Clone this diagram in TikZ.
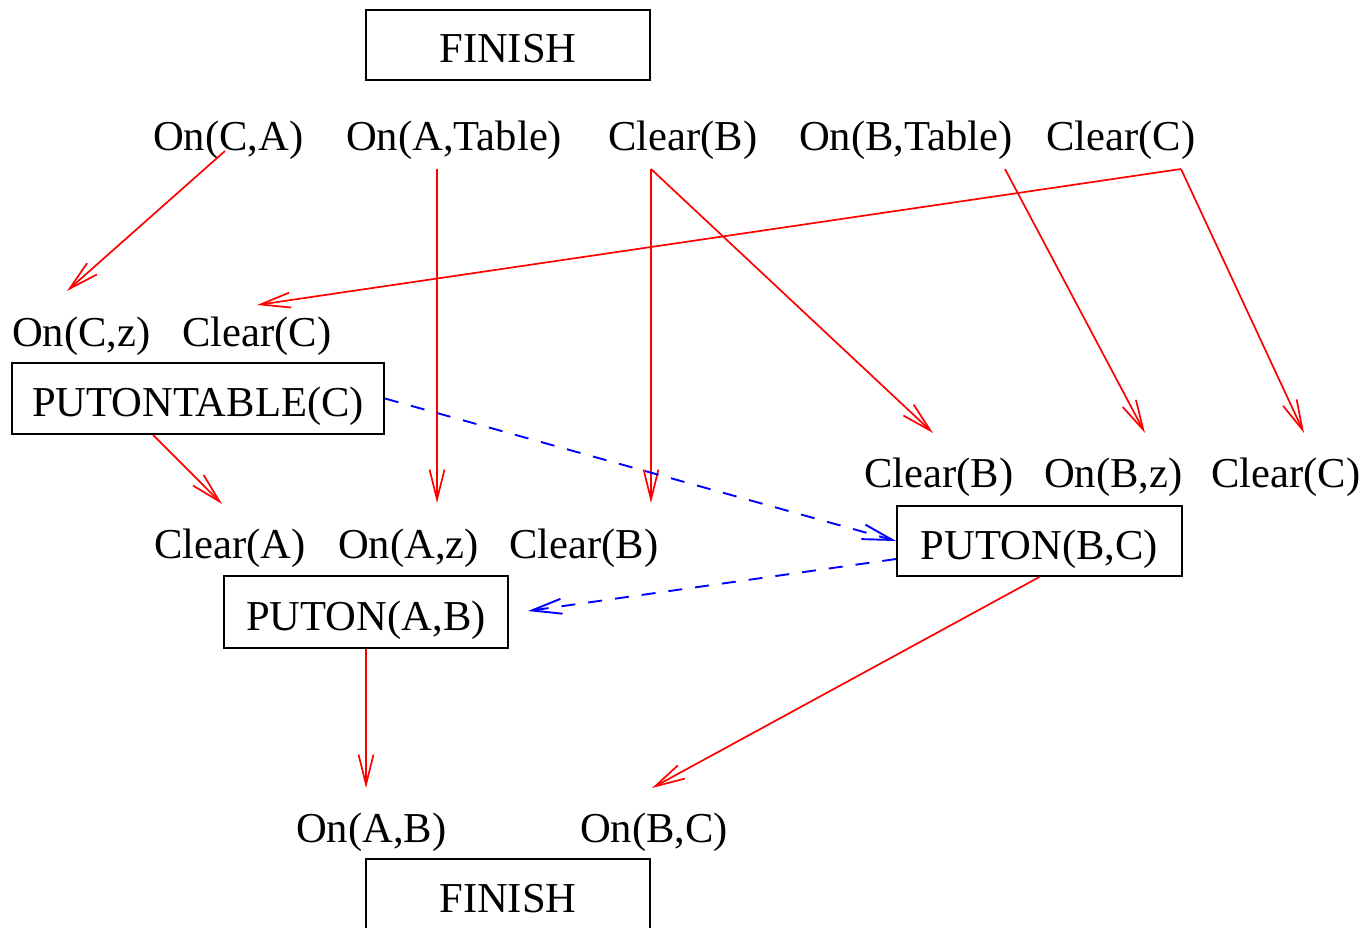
\documentclass[tikz,border=0pt]{standalone}
\usepackage{fontspec}
\setmainfont{Liberation Serif}
\usetikzlibrary{arrows.meta,calc}

\tikzset{
  lbl/.style={inner sep=0pt, anchor=base west, font=\fontsize{42.6}{50}\selectfont},
  opbox/.style={draw=black, line width=1.8pt, inner sep=0pt,
    text height=40pt, text depth=4pt, font=\fontsize{42.6}{50}\selectfont},
  causal/.style={draw=red, line width=1.7pt,
    -{Straight Barb[length=30pt,width=15pt]}},
  order/.style={draw=blue, line width=1.9pt, dash pattern=on 14pt off 13pt,
    -{Straight Barb[length=30pt,width=15pt]}}
}

\begin{document}
\begin{tikzpicture}[x=1pt,y=-1pt]
\useasboundingbox (0,0) rectangle (1367,928);

% goal step and its preconditions
\node[opbox, minimum width=284pt, minimum height=70pt] (fin1) at (508,45) {FINISH};
\node[lbl] (r1a) at (153,151) {On(C,A)};
\node[lbl] (r1b) at (346,151) {On(A,Table)};
\node[lbl] (r1c) at (608,151) {Clear(B)};
\node[lbl] (r1d) at (799,151) {On(B,Table)};
\node[lbl] (r1e) at (1046,151) {Clear(C)};

% PUTONTABLE(C)
\node[lbl] (r2a) at (12,346) {On(C,z)};
\node[lbl] (r2b) at (182,346) {Clear(C)};
\node[opbox, minimum width=372pt, minimum height=71pt] (ptc) at (198,398.5) {PUTONTABLE(C)};

% PUTON(B,C)
\node[lbl] (r3a) at (864,487) {Clear(B)};
\node[lbl] (r3b) at (1044,487) {On(B,z)};
\node[lbl] (r3c) at (1211,487) {Clear(C)};
\node[opbox, minimum width=285pt, minimum height=70pt] (pbc) at (1039.5,541) {PUTON(B,C)};

% PUTON(A,B)
\node[lbl] (r4a) at (154,558) {Clear(A)};
\node[lbl] (r4b) at (338,558) {On(A,z)};
\node[lbl] (r4c) at (509,558) {Clear(B)};
\node[opbox, minimum width=284pt, minimum height=72pt] (pab) at (366,612) {PUTON(A,B)};

% final step
\node[lbl] (r5a) at (296,842) {On(A,B)};
\node[lbl] (r5b) at (580,842) {On(B,C)};
\node[opbox, minimum width=284pt, minimum height=70pt] (fin2) at (508,894) {FINISH};

% causal links
\draw[causal] ($(r1a.base west)+(72,0)$) -- ($(r2a.base west)+(55,-55)$);
\draw[causal] ($(r1b.base west)+(91,18)$) -- ($(r4b.base west)+(99,-55)$);
\draw[causal] ($(r1c.base west)+(43,18)$) -- ($(r4c.base west)+(142,-55)$);
\draw[causal] ($(r1c.base west)+(43,18)$) -- ($(r3a.base west)+(69,-54)$);
\draw[causal] ($(r1d.base west)+(206,18)$) -- ($(r3b.base west)+(101,-54)$);
\draw[causal] ($(r1e.base west)+(135,18)$) -- ($(r2b.base west)+(75,-41)$);
\draw[causal] ($(r1e.base west)+(135,18)$) -- ($(r3c.base west)+(93,-54)$);
\draw[causal] ($(ptc.south west)+(142,0)$) -- ($(r4a.base west)+(68,-54)$);
\draw[causal] (pab.south) -- ($(r5a.base west)+(70,-54)$);
\draw[causal] (pbc.south) -- ($(r5b.base west)+(72,-54)$);

% ordering constraints
\draw[order] (ptc.east) -- (pbc.west);
\draw[order] ($(pbc.west)+(0,18)$) -- ($(pab.east)+(19,-1)$);
\end{tikzpicture}
\end{document}
